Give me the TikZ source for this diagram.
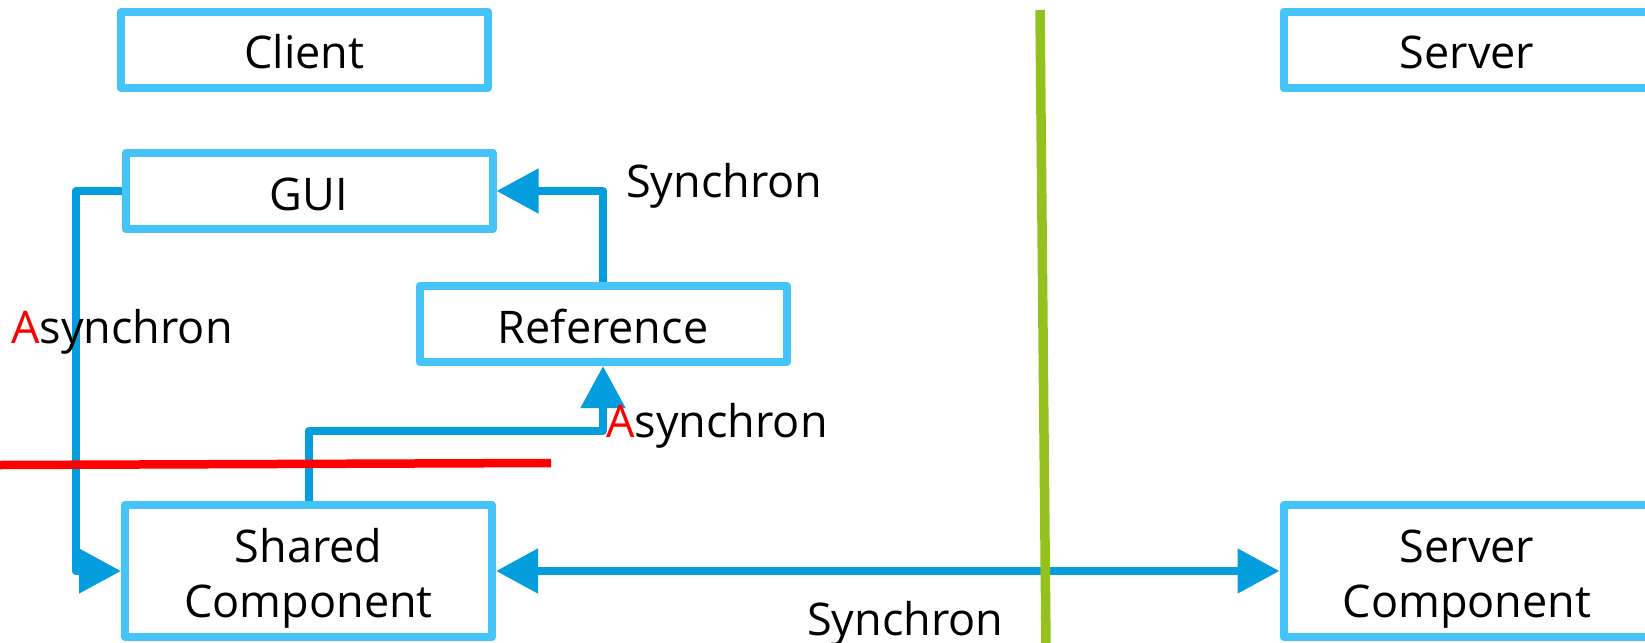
\documentclass[tikz,border=0pt]{standalone}
\usepackage{fontspec}
\setmainfont{Open Sans}
\usetikzlibrary{arrows.meta}
\definecolor{boxblue}{RGB}{69,196,250}
\definecolor{connblue}{RGB}{4,158,222}
\definecolor{divgreen}{RGB}{149,193,31}
\definecolor{sepred}{RGB}{255,0,0}
\begin{document}
\begin{tikzpicture}[x=1pt,y=-1pt,
  box/.style={draw=boxblue,line width=8pt,minimum width=367pt,minimum height=76pt,inner sep=0pt,align=center,font=\fontsize{45}{55}\selectfont,line join=round,text height=40pt,text depth=2pt},
  tallbox/.style={box,minimum height=132pt,text height=94pt,text depth=2pt},
  conn/.style={draw=connblue,line width=8pt,line join=round},
  tipend/.style={-{Triangle[length=42pt,width=43pt]}},
  tipboth/.style={{Triangle[length=42pt,width=43pt]}-{Triangle[length=42pt,width=43pt]}},
  lbl/.style={font=\fontsize{45}{57}\selectfont,inner sep=0pt,anchor=base west},
  divider/.style={line width=9.5pt}]
\useasboundingbox (0,0) rectangle (1645,642);
\node[box] (client) at (304.5,50) {Client};
\node[box] (server) at (1467,50) {Server};
\node[box] (gui) at (309,191) {GUI};
\node[box] (ref) at (603,324) {Reference};
\node[tallbox] (shared) at (308.5,571) {Shared\\Component};
\node[tallbox] (servercomp) at (1467,571) {Server\\Component};

\draw[conn,tipend] (gui.west) -- ++(-46,0) |- (shared.west);
\draw[conn,tipend] (ref.north) |- (gui.east);
\coordinate (bend) at (308.5,431);
\draw[conn,tipend] (shared.north) -- (bend) -| (ref.south);
\draw[conn,tipboth] (shared.east) -- (servercomp.west);

\node[lbl] (l1) at (626,197) {Synchron};
\node[lbl] (l2) at (11,343) {{\color{sepred}A}synchron};
\node[lbl] (l3) at (606,437) {{\color{sepred}A}synchron};
\node[lbl] (l4) at (807,635) {Synchron};

\coordinate (r1) at (0,465);
\coordinate (r2) at (551,463);
\draw[sepred,line width=8.5pt] (r1) -- (r2);
\coordinate (g1) at (1040,10);
\coordinate (g2) at (1046,648);
\draw[divgreen,divider] (g1) -- (g2);
\end{tikzpicture}
\end{document}
